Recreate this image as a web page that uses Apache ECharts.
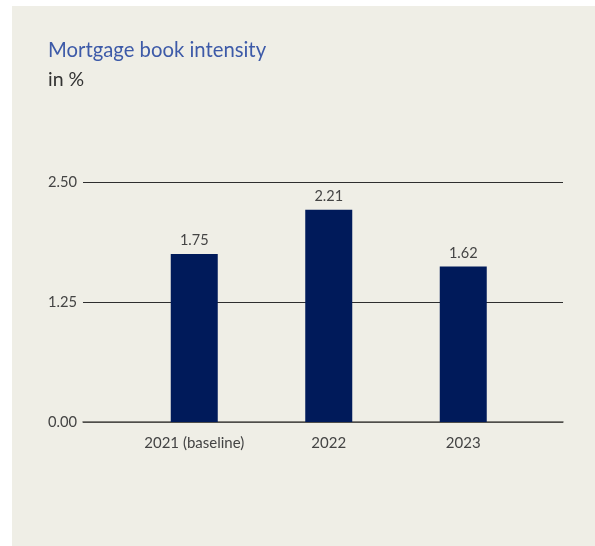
<!DOCTYPE html>
<html>
<head>
<meta charset="utf-8">
<script src="https://cdn.jsdelivr.net/npm/echarts@6/dist/echarts.min.js"></script>
<style>
  html, body { margin: 0; padding: 0; background: #ffffff; }
  #wrap { position: relative; width: 595px; height: 546px; }
  #panel { position: absolute; left: 12px; top: 6px; width: 583px; height: 540px; background: #efeee6; }
  #chart { position: absolute; left: 0; top: 0; width: 595px; height: 546px; }
</style>
</head>
<body>
<div id="wrap">
  <div id="panel"></div>
  <div id="chart"></div>
</div>
<script>
// Mortgage book intensity, in %
const categories = ['2021 (baseline)', '2022', '2023'];
const intensity = [1.75, 2.21, 1.62];
const yTicks = [0, 1.25, 2.5];

const yMin = yTicks[0];
const yMax = yTicks[yTicks.length - 1];
const yStep = yTicks[1] - yTicks[0];

const chart = echarts.init(document.getElementById('chart'), null, { renderer: 'canvas' });
const font = 'Lato, "Open Sans", sans-serif';

chart.setOption({
  backgroundColor: 'transparent',
  animation: false,
  textStyle: { fontFamily: font },
  title: [
    {
      text: 'Mortgage book intensity',
      left: 43, top: 35,
      textStyle: { fontFamily: font, fontSize: 20.3, fontWeight: 'normal', color: '#3d5aa8' }
    },
    {
      text: 'in %',
      left: 43, top: 65,
      textStyle: { fontFamily: font, fontSize: 19.5, fontWeight: 'normal', color: '#333333' }
    }
  ],
  grid: [
    // frame carrying the value scale and the horizontal rules
    { left: 83, right: 32, top: 182, bottom: 124 },
    // narrower frame carrying the bars
    { left: 127, right: 64.5, top: 182, bottom: 124 }
  ],
  xAxis: [
    {
      gridIndex: 0, type: 'category', data: categories,
      axisLine: { show: true, lineStyle: { color: '#5a5854', width: 1.5 } },
      axisTick: { show: false }, axisLabel: { show: false }
    },
    {
      gridIndex: 1, type: 'category', data: categories,
      axisLine: { show: false }, axisTick: { show: false },
      axisLabel: { color: '#444444', fontSize: 15, margin: 14, fontFamily: font }
    }
  ],
  yAxis: [
    {
      gridIndex: 0, type: 'value', min: yMin, max: yMax, interval: yStep,
      axisLine: { show: false }, axisTick: { show: false },
      splitLine: { show: true, lineStyle: { color: '#2e2e2e', width: 1 } },
      axisLabel: {
        color: '#444444', fontSize: 14.7, margin: 6, fontFamily: font,
        formatter: v => v.toFixed(2)
      }
    },
    {
      gridIndex: 1, type: 'value', min: yMin, max: yMax, interval: yStep,
      show: false
    }
  ],
  series: [
    {
      type: 'bar',
      xAxisIndex: 1, yAxisIndex: 1,
      data: intensity,
      barWidth: 47,
      itemStyle: { color: '#001a5a' },
      label: {
        show: true, position: 'top', distance: 6,
        color: '#444444', fontSize: 14.5, fontFamily: font,
        formatter: p => p.value.toFixed(2)
      }
    }
  ]
});
</script>
</body>
</html>
